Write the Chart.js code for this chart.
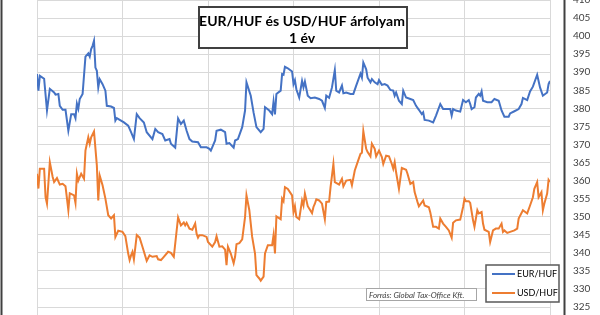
<!DOCTYPE html>
<html><head><meta charset="utf-8">
<script src="https://cdn.jsdelivr.net/npm/chart.js@4/dist/chart.umd.min.js"></script>
<style>html,body{margin:0;padding:0;background:#fff;}#wrap{position:relative;width:600px;height:315px;overflow:hidden}</style>
</head><body><div id="wrap"><canvas id="c" width="600" height="315"></canvas></div>
<script>
const titleLines = ['EUR/HUF és USD/HUF árfolyam', '1 év'];
const sourceText = 'Forrás: Global Tax-Office Kft.';
const seriesNames = ['EUR/HUF', 'USD/HUF'];

// day index within the one-year window (0 .. 360)
const eurDays = [0,1,2,5,7,9,12,13,15,16,18,20,22,24,26,27,28,29,30,32,34,36,37,38,39,40,41,42,43,44,46,48,49,52,54,55,56,61,64,66,68,70,72,75,77,81,83,85,88,90,93,94,97,99,101,103,105,107,109,113,115,119,121,122,125,126,129,132,133,135,138,139,141,144,146,147,150,152,154,157,159,160,163,165,166,167,168,171,172,173,174,176,179,180,181,182,184,186,187,188,190,192,195,198,200,202,203,205,207,209,210,212,214,215,217,220,222,224,227,228,229,231,232,234,235,237,239,240,242,244,246,248,250,251,252,254,256,257,259,262,264,266,268,270,271,272,275,278,280,283,285,290,291,292,294,297,299,301,303,304,305,307,308,310,311,312,313,316,319,321,324,326,328,331,332,335,338,340,341,344,346,348,351,353,355,358,359,360];
const eurValues = [389.5,384.9,389,388.2,379.4,385.4,384.4,383.8,384,380.7,379.6,379.6,373.8,378.4,378.4,377.3,381.3,379.9,382.6,384,394.3,395.2,394.3,396.4,397.3,398.7,391.3,390.4,385.8,388.1,386.7,384.9,380.7,380.5,380.1,376.6,377.3,376.1,375.2,373.4,371.5,378.4,377.3,376.1,373.4,371.5,374.3,373.4,372.9,371.1,371.5,370.2,369.1,377.2,375.7,376.6,373.8,371.5,370.8,370.6,369.2,369.2,368.8,368.3,371.1,373.8,374.1,373.4,370.2,370.4,369.1,371.1,371.5,374.8,379.4,387.2,383.5,378.8,374.8,373.4,374.3,380.3,379.4,378.4,381.9,378.3,384,384.9,389.5,389.3,391.5,391.1,390.2,386.7,387.8,385.3,383,387.6,385.8,387.4,383.5,382.8,383,382.6,382.1,380.1,383.5,382.9,385.8,390.6,384.9,384.4,386.3,384.2,384.4,384,384,386.3,389.6,388.5,392.7,390.8,388.5,387.2,388.1,387.2,386.7,387.8,386.5,386.7,386.3,385.1,384.9,383.5,384.4,382.1,381.2,384.9,383,382.6,382.3,380.7,379.6,378.4,378.9,376.8,376.6,376.1,378,381.2,379.8,379.8,378,379.8,379.4,379.1,382.3,381.7,382.3,381.2,379.8,380.3,383,384,383.5,384.7,382.1,381.7,381.7,382.6,382.1,379.4,377.7,377.7,378.6,379.2,379.8,381.2,382.9,382.3,384.7,386,389.3,385.8,383.5,384.4,386.7,387.6];

const usdDays = [0,1,2,5,6,7,9,11,12,14,16,18,20,22,23,26,27,28,29,31,33,34,36,37,38,40,42,43,44,46,48,50,52,54,55,57,60,62,64,65,66,67,68,70,72,74,77,79,81,84,85,87,89,92,94,96,99,101,103,104,105,107,109,111,112,113,114,116,119,120,123,125,126,128,130,132,133,134,136,138,139,140,142,144,146,147,149,151,153,154,156,157,159,160,162,165,166,167,168,171,172,173,174,176,179,180,181,182,184,186,187,188,190,193,194,195,196,198,200,202,203,205,206,208,209,212,214,215,217,220,221,223,225,227,228,229,231,232,234,235,237,238,240,242,243,245,247,249,250,251,252,254,256,259,260,262,264,265,267,268,271,272,275,276,278,280,282,283,285,287,289,291,292,294,297,299,300,301,303,304,306,307,309,310,312,313,314,317,318,320,322,324,326,327,328,330,332,335,337,338,341,344,346,348,349,351,352,354,355,356,358,359,360];
const usdValues = [361.9,357.8,363.3,363.3,355.4,353.6,365.1,361,359.6,360.7,358.9,359.1,358.4,351.8,356.5,355.9,353.8,361.9,360,361.9,360.5,368.3,372,370.2,372,373.6,364.2,354.5,361.4,358.7,355,350.4,349.5,350.4,344.4,346.1,345.8,344.6,339.8,338,339.3,340.3,338.2,344.9,344.2,341.7,337.8,339.3,338.9,339.1,338.2,338,338.9,340.3,340,338.9,349.8,347.6,348.4,347.6,348.3,346.7,346.4,348.1,345.3,344.2,344.9,344.9,344.4,343,341.7,343,344.6,341.7,341.8,340.9,336.6,341.7,339.8,337.1,338.9,342.4,342.7,343.7,349.9,355.9,351.8,344.4,339.8,333.8,332.9,332.3,333.4,339.8,342.1,342.1,344.9,339.8,350.1,349.3,355,354.3,358.2,357.7,355.9,351.3,352.9,349.9,349.3,354.5,353.1,356.4,352.9,351,352.7,353.6,354.8,354.5,353.6,349.3,354.1,354.2,358.2,364.6,359.6,358.9,360.5,358.4,360,360.2,358.7,362.8,365.1,367.4,367.7,373.7,368.8,367.9,366.7,370.2,368.8,366.7,368.3,366.5,364.6,366.9,366.7,364.6,363.3,365.1,362.3,357.7,363.5,363,361.9,359.1,359.6,356.8,354.1,352.9,354.5,353.1,352.6,351.2,347.2,347.2,346.7,349.5,348.1,347.2,346.2,344.2,348.3,349,349.2,352.7,355,354.3,354.3,353.8,349,347.2,351.8,350.9,351.3,348.1,346.4,345.8,343,346.2,346.7,346.7,348.1,345.8,346.2,345.5,345.8,346.2,346.7,349.5,351.8,350.9,353.1,355.4,357.7,359.6,355.4,356.8,351.8,353.6,356.4,360.2,359.6];

const yMin = 325, yMax = 410, yStep = 5;
const xMin = 0, xMax = 360, xStep = 60;
const colors = ['#4472C4', '#ED7D31'];

function pts(days, vals) { return days.map((d, i) => ({x: d, y: vals[i]})); }

const decor = {
  id: 'decor',
  afterDraw(chart) {
    const ctx = chart.ctx;
    ctx.save();
    // frame lines
    ctx.strokeStyle = '#404040'; ctx.lineWidth = 2;
    ctx.beginPath(); ctx.moveTo(1.5, 0); ctx.lineTo(1.5, 315); ctx.stroke();
    ctx.beginPath(); ctx.moveTo(564.5, 0); ctx.lineTo(564.5, 315); ctx.stroke();
    // title box
    ctx.fillStyle = '#fff'; ctx.fillRect(199, 7, 208, 41);
    ctx.strokeStyle = '#404040'; ctx.lineWidth = 2; ctx.strokeRect(199, 7, 208, 41);
    ctx.fillStyle = '#000'; ctx.textAlign = 'center'; ctx.textBaseline = 'middle';
    ctx.font = 'bold 14px Lato';
    ctx.fillText(titleLines[0], 302, 21);
    ctx.fillText(titleLines[1], 302, 38);
    // source box
    ctx.fillStyle = '#fff'; ctx.fillRect(366.5, 288.5, 110, 12);
    ctx.strokeStyle = '#a6a6a6'; ctx.lineWidth = 1; ctx.strokeRect(366.5, 288.5, 110, 12);
    ctx.fillStyle = '#404040'; ctx.textAlign = 'left'; ctx.font = 'italic 8px Lato';
    ctx.fillText(sourceText, 369, 295);
    // legend
    ctx.fillStyle = '#fff'; ctx.fillRect(486, 265, 73, 37);
    ctx.strokeStyle = '#595959'; ctx.lineWidth = 1.5; ctx.strokeRect(486, 265, 73, 37);
    chart.data.datasets.forEach((ds, i) => {
      const y = 274 + i * 19;
      ctx.strokeStyle = ds.borderColor; ctx.lineWidth = 2;
      ctx.beginPath(); ctx.moveTo(492, y); ctx.lineTo(515, y); ctx.stroke();
      ctx.fillStyle = '#000'; ctx.font = '9px Lato'; ctx.textAlign = 'left';
      ctx.fillText(ds.label, 517, y);
    });
    ctx.restore();
  }
};

new Chart(document.getElementById('c'), {
  type: 'line',
  data: {
    datasets: [
      {label: seriesNames[0], data: pts(eurDays, eurValues), borderColor: colors[0], backgroundColor: colors[0], borderWidth: 2, pointRadius: 0, tension: 0},
      {label: seriesNames[1], data: pts(usdDays, usdValues), borderColor: colors[1], backgroundColor: colors[1], borderWidth: 2, pointRadius: 0, tension: 0}
    ]
  },
  options: {
    responsive: false, animation: false, devicePixelRatio: 1,
    layout: {padding: {left: 37, right: 0, top: 0, bottom: 0}},
    plugins: {legend: {display: false}, tooltip: {enabled: false}, title: {display: false}},
    scales: {
      x: {type: 'linear', min: xMin, max: xMax,
          ticks: {display: false, stepSize: xStep},
          grid: {color: '#d9d9d9', tickLength: 8, drawTicks: true},
          border: {color: '#d9d9d9'}},
      y: {position: 'right', min: yMin, max: yMax,
          ticks: {stepSize: yStep, padding: 23, color: '#404040', font: {family: 'Lato', size: 10}},
          grid: {color: '#d9d9d9', drawTicks: false},
          border: {display: false},
          afterFit(s) { s.width = 50; s.paddingTop = 0; s.paddingBottom = 0; }}
    }
  },
  plugins: [decor]
});
</script></body></html>
